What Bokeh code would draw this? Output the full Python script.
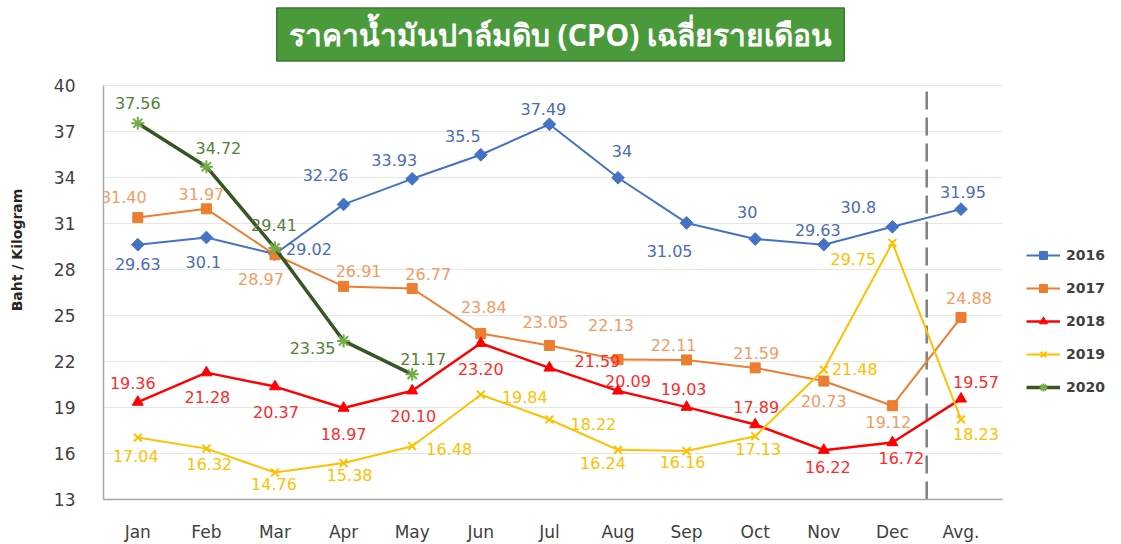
import math
from bokeh.plotting import figure
from bokeh.models import (ColumnDataSource, LabelSet, Label, BoxAnnotation, Legend, LegendItem,
                          FixedTicker, Range1d)
from bokeh.core.properties import value
from bokeh.embed import file_html
from bokeh.resources import INLINE

# ---------------- data ----------------
months = ["Jan", "Feb", "Mar", "Apr", "May", "Jun", "Jul", "Aug", "Sep", "Oct", "Nov", "Dec", "Avg."]
y2016 = [29.63, 30.1, 29.02, 32.26, 33.93, 35.5, 37.49, 34, 31.05, 30, 29.63, 30.8, 31.95]
y2017 = [31.40, 31.97, 28.97, 26.91, 26.77, 23.84, 23.05, 22.13, 22.11, 21.59, 20.73, 19.12, 24.88]
y2018 = [19.36, 21.28, 20.37, 18.97, 20.10, 23.20, 21.59, 20.09, 19.03, 17.89, 16.22, 16.72, 19.57]
y2019 = [17.04, 16.32, 14.76, 15.38, 16.48, 19.84, 18.22, 16.24, 16.16, 17.13, 21.48, 29.75, 18.23]
y2020 = [37.56, 34.72, 29.41, 23.35, 21.17]
lab2016 = ["29.63", "30.1", "29.02", "32.26", "33.93", "35.5", "37.49", "34", "31.05", "30", "29.63", "30.8", "31.95"]
lab2017 = ["31.40", "31.97", "28.97", "26.91", "26.77", "23.84", "23.05", "22.13", "22.11", "21.59", "20.73", "19.12", "24.88"]
lab2018 = ["19.36", "21.28", "20.37", "18.97", "20.10", "23.20", "21.59", "20.09", "19.03", "17.89", "16.22", "16.72", "19.57"]
lab2019 = ["17.04", "16.32", "14.76", "15.38", "16.48", "19.84", "18.22", "16.24", "16.16", "17.13", "21.48", "29.75", "18.23"]
lab2020 = ["37.56", "34.72", "29.41", "23.35", "21.17"]
y_ticks = [13, 16, 19, 22, 25, 28, 31, 34, 37, 40]
title_text = "ราคาน้ำมันปาล์มดิบ (CPO) เฉลี่ยรายเดือน"

# ---------------- label placement (screen px; dy positive = downward) ----------------
dx2016 = [0, -3, 34, -18, -18, -18, -6, 4, -17, -8, -6, -34, 2]
dy2016 = [19, 24, -5, -29, -19, -19, -15, -27, 28, -27, -15, -20, -17]
dx2017 = [-14, -5, -14, 15, 16, 3, -4, -7, -13, 1, 0, -4, 8]
dy2017 = [-21, -15, 24, -15, -15, -26, -24, -35, -15, -15, 20, 16, -19]
dx2018 = [-5, 1, 1, 0, 1, 0, 48, 10, -3, 1, 4, 9, 15]
dy2018 = [-19, 24, 25, 26, 25, 26, -7, -10, -18, -18, 17, 15, -17]
dx2019 = [-2, 3, -1, 6, 37, 44, 44, -15, -4, 3, 31, -39, 15]
dy2019 = [18, 15, 11, 12, 3, 2, 4, 13, 11, 13, -1, 16, 15]
dx2020 = [0, 12, -1, -31, 11]
dy2020 = [-20, -19, -23, 7, -15]

# ---------------- layout ----------------
W, H = 1121, 544
LEFT, BOTTOM = 103, 41
PX_PER_CAT = 68.6                 # horizontal pixels per month
Y_LO, Y_HI = 13, 40
PX_PER_UNIT = 417 / (Y_HI - Y_LO)  # vertical pixels per Baht
frame_w = W - LEFT
frame_h = H - BOTTOM
x_end = -0.5 + frame_w / PX_PER_CAT
y_top = Y_LO + frame_h / PX_PER_UNIT
plot_right = -0.5 + 899 / PX_PER_CAT  # right end of the plotting area

p = figure(width=W, height=H, output_backend="svg", toolbar_location=None,
           x_range=Range1d(-0.5, x_end), y_range=Range1d(Y_LO, y_top),
           min_border_left=LEFT, min_border_right=0, min_border_top=0, min_border_bottom=BOTTOM,
           background_fill_color="white", border_fill_color="white")
p.outline_line_color = None

# grid
p.xgrid.grid_line_color = None
p.ygrid.grid_line_color = "#E6E6E6"
p.ygrid.grid_line_width = 1
p.ygrid.ticker = FixedTicker(ticks=y_ticks)
# hide grid lines to the right of the plotting area (legend zone)
p.add_layout(BoxAnnotation(left=plot_right, fill_color="white", fill_alpha=1,
                           line_color=None, level="underlay"))

# axes
p.xaxis.ticker = FixedTicker(ticks=list(range(len(months))))
p.xaxis.major_label_overrides = {i: m for i, m in enumerate(months)}
p.xaxis.bounds = (-0.5, plot_right)
p.yaxis.ticker = FixedTicker(ticks=y_ticks)
p.yaxis.bounds = (Y_LO, Y_HI)
for ax in (p.xaxis[0], p.yaxis[0]):
    ax.axis_line_color = "#A6A6A6"
    ax.axis_line_width = 1.5
    ax.major_tick_line_color = None
    ax.minor_tick_line_color = None
    ax.major_label_text_font = "DejaVu Sans"
    ax.major_label_text_font_size = "17px"
    ax.major_label_text_color = "#404040"
p.xaxis.major_label_standoff = 16
p.yaxis.major_label_standoff = 22
p.yaxis.axis_label = "Baht / Kilogram"
p.yaxis.axis_label_text_font = "DejaVu Sans"
p.yaxis.axis_label_text_font_size = "14px"
p.yaxis.axis_label_text_font_style = "bold"
p.yaxis.axis_label_text_color = "#262626"
p.yaxis.axis_label_standoff = 26

# separator before average (dashed)
p.segment(x0=[11.5], y0=[Y_LO], x1=[11.5], y1=[Y_HI], line_color="#7F7F7F",
          line_width=2.5, line_dash="18 8")

series = [
    ("2016", y2016, lab2016, dx2016, dy2016, "#4472C4", "#4472C4", "#4A6DB0", "square", 9, 2, math.pi / 4),
    ("2017", y2017, lab2017, dx2017, dy2017, "#ED7D31", "#ED7D31", "#F29B63", "square", 10, 2, 0),
    ("2018", y2018, lab2018, dx2018, dy2018, "#FF0000", "#FF0000", "#FF2A2A", "triangle", 11, 2.5, 0),
    ("2019", y2019, lab2019, dx2019, dy2019, "#FFC000", "#FFC000", "#FFC000", "x", 11, 2, 0),
    ("2020", y2020, lab2020, dx2020, dy2020, "#375623", "#70AD47", "#548235", "asterisk", 13, 3.5, 0),
]

items = []
for name, ys, labs, dxs, dys, lc, mc, tc, marker, msize, lw, ang in series:
    xs = list(range(len(ys)))
    src = ColumnDataSource(dict(x=xs, y=ys, lab=labs, dx=dxs, ndy=[-d for d in dys]))
    r1 = p.line("x", "y", source=src, line_color=lc, line_width=lw)
    if marker in ("x", "asterisk"):
        r2 = p.scatter("x", "y", source=src, marker=marker, size=msize,
                       line_color=mc, line_width=2)
    else:
        r2 = p.scatter("x", "y", source=src, marker=marker, size=msize, angle=ang,
                       fill_color=mc, line_color=mc)
    p.add_layout(LabelSet(x="x", y="y", text="lab", source=src, x_offset="dx", y_offset="ndy",
                          text_align="center", text_baseline="middle",
                          text_font=value("DejaVu Sans"), text_font_size="16px",
                          text_color=tc))
    items.append(LegendItem(label=name, renderers=[r1, r2]))

legend = Legend(items=items, location=(923, 102), orientation="vertical",
                padding=0, margin=0, spacing=13, label_height=20, glyph_height=20,
                glyph_width=34, label_standoff=6,
                label_text_font="DejaVu Sans", label_text_font_size="14px",
                label_text_font_style="bold", label_text_color="#404040",
                border_line_color=None, background_fill_alpha=0)
p.add_layout(legend, "center")

# title box (screen units measured from the frame's bottom-left)
p.add_layout(Label(x=457, y=frame_h - 38, x_units="screen", y_units="screen", text=title_text,
                   text_align="center", text_baseline="middle",
                   text_font="Noto Sans", text_font_size="30px", text_font_style="bold",
                   text_color="white", background_fill_color="#4A9A3C",
                   border_line_color="#3B7A30", border_line_width=1.5,
                   padding=(12, 6)))

open("out.html", "w").write(file_html(p, INLINE))
